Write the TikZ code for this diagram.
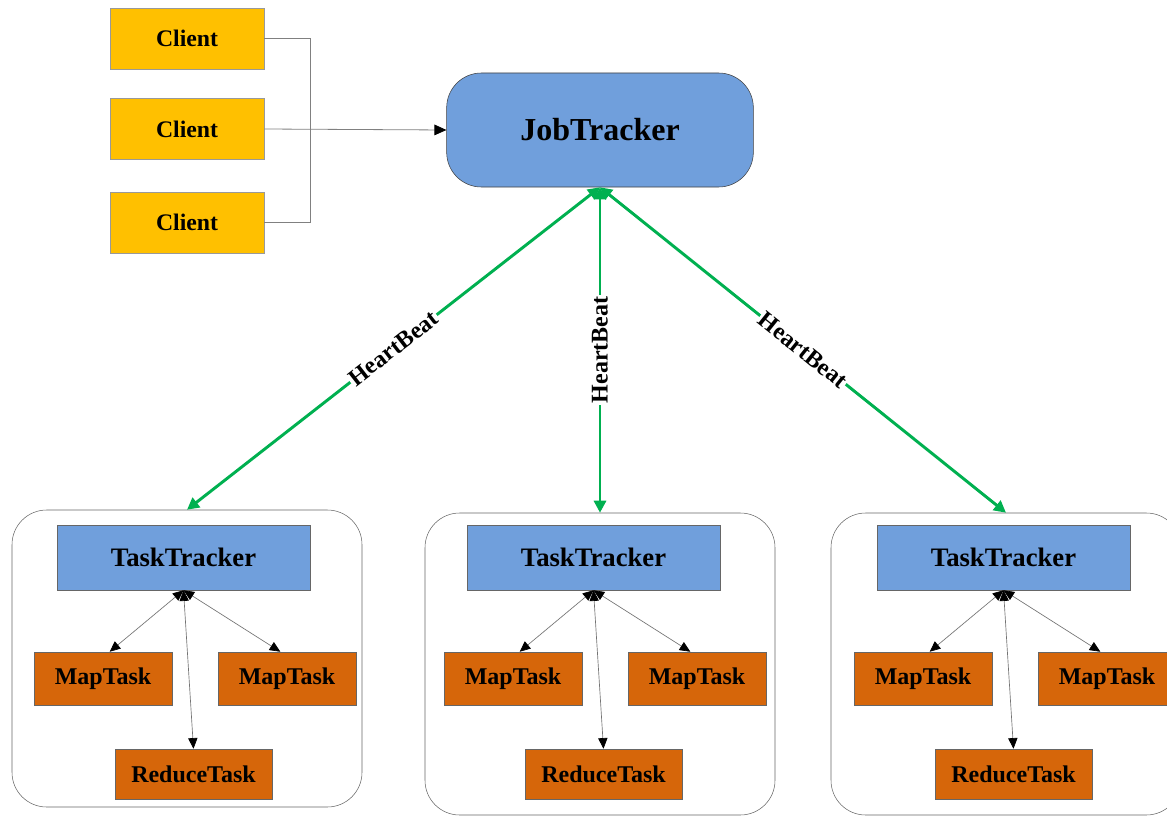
\documentclass[tikz,border=0pt]{standalone}
\usepackage{fontspec}
\setmainfont{Liberation Serif}
\usetikzlibrary{arrows.meta,positioning}
\definecolor{clientfill}{RGB}{255,192,0}
\definecolor{jobfill}{RGB}{112,159,220}
\definecolor{taskfill}{RGB}{214,102,10}
\definecolor{beatgreen}{RGB}{0,176,80}

\begin{document}
\begin{tikzpicture}[x=0.75pt,y=-0.75pt,
  client/.style={draw=gray!80,fill=clientfill,minimum width=115.5pt,minimum height=45.75pt,
    font=\fontsize{17.8}{20}\selectfont\bfseries},
  jobbox/.style={draw=black!75,fill=jobfill,rounded corners=26pt,minimum width=230pt,
    minimum height=85.5pt,font=\fontsize{24}{28}\selectfont\bfseries},
  taskbox/.style={draw=black!60,fill=jobfill,minimum width=189.75pt,minimum height=48.75pt,
    font=\fontsize{20}{24}\selectfont\bfseries},
  subtask/.style={draw=black!60,fill=taskfill,minimum height=39.75pt,
    font=\fontsize{18}{22}\selectfont\bfseries},
  group/.style={draw=black!60,rounded corners=26pt,minimum width=262.5pt},
  link/.style={draw=gray,line width=0.6pt},
  beat/.style={draw=beatgreen,line width=2.2pt,{Triangle[length=9pt,width=9pt]}-{Triangle[length=9pt,width=9pt]}},
  beatlabel/.style={fill=white,inner sep=1pt,sloped,midway,font=\fontsize{18}{20}\selectfont\bfseries},
  sub/.style={draw=black!55,line width=0.5pt,
    {Triangle[length=8pt,width=7pt,black]}-{Triangle[length=8pt,width=7pt,black]}}]

  \useasboundingbox (0,0) rectangle (1167,817);

  % clients and job tracker
  \node[client] (c1) at (187,38.5) {Client};
  \node[client] (c2) at (187,129) {Client};
  \node[client] (c3) at (187,222.5) {Client};
  \node[jobbox] (jt) at (600,130) {JobTracker};

  \draw[link] (c1.east) -- ++(46,0) |- (c3.east);
  \draw[link,-{Triangle[length=9pt,width=8pt,black]}] (c2.east) -- (jt.west);

  % task tracker groups
  \foreach \n/\s/\gs/\gt/\gb in {a/0/0/510/807, b/410/413/513/815, c/820/819/513/815} {
    \node[group,minimum height={(\gb-\gt)*0.75pt}] (grp\n) at (187+\gs,{(\gt+\gb)/2}) {};
    \node[taskbox] (tt\n) at (183.5+\s,557.5) {TaskTracker};
    \node[subtask,minimum width=103.5pt] (ml\n) at (103+\s,678.5) {MapTask};
    \node[subtask,minimum width=103.5pt] (mr\n) at (287+\s,678.5) {MapTask};
    \node[subtask,minimum width=117.75pt,minimum height=37.5pt] (rd\n) at (193.5+\s,774) {ReduceTask};

    \draw[sub] (tt\n.south) -- ([xshift=5pt]ml\n.north);
    \draw[sub] (tt\n.south) -- ([xshift=-5pt]mr\n.north);
    \draw[sub] (tt\n.south) -- (rd\n.north);

    \draw[beat] (grp\n.north) -- node[beatlabel] {HeartBeat} (jt.south);
  }
\end{tikzpicture}
\end{document}
